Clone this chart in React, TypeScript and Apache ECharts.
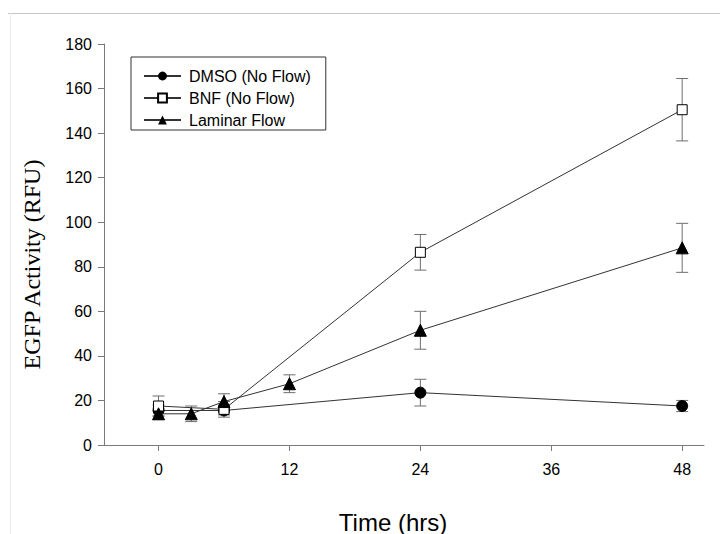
import React, { useEffect, useRef } from "react";
import * as echarts from "echarts";

const seriesNames = ["DMSO (No Flow)", "BNF (No Flow)", "Laminar Flow"];

const dmsoHours = [0, 6, 24, 48];
const dmsoMean = [15.5, 15.5, 23.5, 17.5];
const dmsoErr = [2.5, 2, 6, 2.5];

const bnfHours = [0, 6, 24, 48];
const bnfMean = [17.5, 16, 86.5, 150.5];
const bnfErr = [4.5, 3.5, 8, 14];

const lamHours = [0, 3, 6, 12, 24, 48];
const lamMean = [14, 14, 19.5, 27.5, 51.5, 88.5];
const lamErr = [2.5, 3.5, 3.5, 4, 8.5, 11];

const xTickValues = [0, 12, 24, 36, 48];

function pairs(h: number[], m: number[]) {
  return h.map((x, i) => [x, m[i]]);
}
function errData(h: number[], m: number[], e: number[]) {
  return h.map((x, i) => [x, m[i] - e[i], m[i] + e[i]]);
}

function renderErr(params: any, api: any) {
  const x = api.value(0);
  const lo = api.coord([x, api.value(1)]);
  const hi = api.coord([x, api.value(2)]);
  const hw = 6;
  const st = { stroke: "#6e6e6e", lineWidth: 1 };
  return {
    type: "group",
    children: [
      { type: "line", shape: { x1: lo[0], y1: lo[1], x2: hi[0], y2: hi[1] }, style: st },
      { type: "line", shape: { x1: lo[0] - hw, y1: lo[1], x2: lo[0] + hw, y2: lo[1] }, style: st },
      { type: "line", shape: { x1: hi[0] - hw, y1: hi[1], x2: hi[0] + hw, y2: hi[1] }, style: st },
    ],
  };
}

function errSeries(name: string, data: number[][]) {
  return {
    type: "custom",
    name: name + " error",
    data,
    renderItem: renderErr,
    encode: { x: 0, y: [1, 2] },
    z: 1,
    silent: true,
  };
}

export default function App() {
  const ref = useRef<HTMLDivElement>(null);
  useEffect(() => {
    if (!ref.current) return;
    const chart = echarts.init(ref.current, null, { renderer: "svg" });
    const lineStyle = { color: "#333", width: 1 };
    chart.setOption({
      animation: false,
      backgroundColor: "#fff",
      textStyle: { fontFamily: "Liberation Sans" },
      grid: { left: 104, right: 16, top: 44, bottom: 89, outerBoundsMode: "none", containLabel: false },
      graphic: [
        { type: "line", shape: { x1: 8, y1: 13.5, x2: 720, y2: 13.5 }, style: { stroke: "#c4c4c4", lineWidth: 1 } },
        { type: "line", shape: { x1: 10.5, y1: 13, x2: 10.5, y2: 534 }, style: { stroke: "#ebebeb", lineWidth: 1 } },
      ],
      legend: {
        data: seriesNames,
        orient: "vertical",
        left: 131,
        top: 57,
        padding: [11, 15, 2, 12],
        itemGap: 6,
        itemWidth: 37,
        itemHeight: 11,
        borderColor: "#333",
        borderWidth: 1,
        textStyle: { fontFamily: "Liberation Sans", fontSize: 16, color: "#000", padding: [0, 0, 0, 3] },
      },
      xAxis: {
        type: "value",
        min: -5,
        max: 50,
        name: "Time (hrs)",
        nameLocation: "middle",
        nameGap: 65,
        nameTextStyle: { fontFamily: "Liberation Sans", fontSize: 24, color: "#000", padding: [0, 22, 0, 0] },
        axisLine: { onZero: false, lineStyle: { color: "#7a7a7a" } },
        axisTick: { show: true, length: 6, customValues: xTickValues, lineStyle: { color: "#7a7a7a" } },
        axisLabel: { customValues: xTickValues, fontSize: 16, color: "#000", margin: 16 },
        splitLine: { show: false },
      },
      yAxis: {
        type: "value",
        min: 0,
        max: 180,
        interval: 20,
        name: "EGFP Activity (RFU)",
        nameLocation: "middle",
        nameGap: 60,
        nameTextStyle: { fontFamily: "Liberation Serif", fontSize: 24, color: "#000", padding: [0, 40, 0, 0] },
        axisLine: { show: true, onZero: false, lineStyle: { color: "#7a7a7a" } },
        axisTick: { show: true, length: 6, lineStyle: { color: "#7a7a7a" } },
        axisLabel: { fontSize: 16, color: "#000", margin: 12 },
        splitLine: { show: false },
      },
      series: [
        errSeries(seriesNames[0], errData(dmsoHours, dmsoMean, dmsoErr)),
        errSeries(seriesNames[1], errData(bnfHours, bnfMean, bnfErr)),
        errSeries(seriesNames[2], errData(lamHours, lamMean, lamErr)),
        {
          type: "line",
          name: seriesNames[0],
          data: pairs(dmsoHours, dmsoMean),
          symbol: "circle",
          symbolSize: 11,
          lineStyle,
          itemStyle: { color: "#000", borderColor: "#000" },
          z: 3,
        },
        {
          type: "line",
          name: seriesNames[1],
          data: pairs(bnfHours, bnfMean),
          symbol: "rect",
          symbolSize: 10,
          lineStyle,
          itemStyle: { color: "#fff", borderColor: "#000", borderWidth: 1 },
          z: 4,
        },
        {
          type: "line",
          name: seriesNames[2],
          data: pairs(lamHours, lamMean),
          symbol: "triangle",
          symbolSize: 12,
          lineStyle,
          itemStyle: { color: "#000", borderColor: "#000" },
          z: 5,
        },
      ],
    });
    return () => chart.dispose();
  }, []);
  return (
    <div
      ref={ref}
      style={{ position: "fixed", left: 0, top: 0, width: 720, height: 534 }}
    />
  );
}
